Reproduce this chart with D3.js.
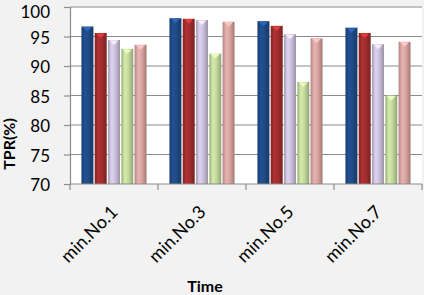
<!DOCTYPE html>
<html><head><meta charset="utf-8">
<script src="https://cdn.jsdelivr.net/npm/d3@7"></script>
<style>html,body{margin:0;padding:0;background:#f2f2f2;}svg{display:block;}</style>
</head><body><svg id="c" width="424" height="295"></svg>
<script>
const categories = ["min.No.1","min.No.3","min.No.5","min.No.7"];
const seriesNames = ["s1","s2","s3","s4","s5"];
const s1 = [96.7, 98.1, 97.6, 96.5];
const s2 = [95.6, 98.0, 96.8, 95.6];
const s3 = [94.4, 97.8, 95.4, 93.7];
const s4 = [92.9, 92.1, 87.3, 85.0];
const s5 = [93.6, 97.5, 94.7, 94.1];
const yTicks = [70,75,80,85,90,95,100];
const colors = ["#1f4a86","#a12d2d","#ccc1dc","#c2d99c","#d8a4a2"];

const seriesVals = [s1,s2,s3,s4,s5];
const svg = d3.select("#c");
const m = {l:70, r:2, t:7, b:111};
const W = 424, H = 295;
const x0 = d3.scaleBand().domain(categories).range([m.l, W-m.r]).paddingInner(0.23).paddingOuter(0.115);
const x1 = d3.scaleBand().domain(seriesNames).range([0, x0.bandwidth()]).padding(0.1);
const y = d3.scaleLinear().domain([70,100]).range([H-m.b, m.t]);
const FONT = "Lato, 'Open Sans', sans-serif";

svg.append("rect").attr("x",m.l).attr("y",m.t).attr("width",W-m.r-m.l).attr("height",H-m.b-m.t).attr("fill","#ffffff");

const defs = svg.append("defs");
colors.forEach((c,i)=>{
  const g = defs.append("linearGradient").attr("id","g"+i).attr("x1","0").attr("x2","1").attr("y1","0").attr("y2","0");
  const cc = d3.color(c);
  g.append("stop").attr("offset","0%").attr("stop-color",cc.darker(0.6));
  g.append("stop").attr("offset","30%").attr("stop-color",cc.brighter(0.25));
  g.append("stop").attr("offset","60%").attr("stop-color",c);
  g.append("stop").attr("offset","100%").attr("stop-color",cc.darker(0.8));
});

// gridlines
svg.append("g").selectAll("line").data(yTicks.slice(1)).join("line")
  .attr("x1",m.l).attr("x2",W-m.r).attr("y1",d=>y(d)).attr("y2",d=>y(d))
  .attr("stroke","#8c8c8c").attr("stroke-width",1.2);

// bars
const groups = svg.append("g").selectAll("g").data(categories).join("g")
  .attr("transform",d=>`translate(${x0(d)},0)`);
groups.each(function(cat,ci){
  const g = d3.select(this);
  seriesNames.forEach((s,si)=>{
    const v = seriesVals[si][ci];
    const bx = x1(s), bw = x1.bandwidth();
    g.append("rect").attr("x",bx).attr("y",y(v)).attr("width",bw).attr("height",y(70)-y(v))
      .attr("fill",`url(#g${si})`);
    const cc = d3.color(colors[si]).brighter(si<2?1.0:0.6);
    g.append("path").attr("d",`M${bx+1.5},${y(v)+0.5} L${bx+bw-1.5},${y(v)+0.5} L${bx+bw/2},${y(v)+5} Z`)
      .attr("fill",cc).attr("opacity",0.9);
  });
});

// axes
const yAxis = svg.append("g").attr("transform",`translate(${m.l},0)`)
  .call(d3.axisLeft(y).tickValues(yTicks).tickSize(6).tickPadding(14));
yAxis.select(".domain").attr("stroke","#8c8c8c").attr("stroke-width",1.2);
yAxis.selectAll(".tick line").attr("stroke","#8c8c8c").attr("stroke-width",1.2);
yAxis.selectAll("text").attr("font-family",FONT).attr("font-size",17).attr("fill","#000")
  .attr("dy",d=>d===100?"0.6em":"0.4em");

const xAxisG = svg.append("g").attr("transform",`translate(0,${y(70)})`);
xAxisG.append("line").attr("x1",m.l).attr("x2",W-m.r).attr("stroke","#8c8c8c").attr("stroke-width",1.2);
const bounds = categories.map(c=>x0(c)-x0.step()*x0.paddingInner()/2).concat([W-m.r]);
xAxisG.selectAll("line.t").data(bounds).join("line").attr("class","t")
  .attr("x1",d=>d).attr("x2",d=>d).attr("y1",0).attr("y2",6).attr("stroke","#8c8c8c").attr("stroke-width",1.2);
xAxisG.selectAll("text").data(categories).join("text")
  .attr("transform",d=>`translate(${x0(d)+x0.bandwidth()/2+5},${29}) rotate(-45)`)
  .attr("text-anchor","end").attr("font-family",FONT).attr("font-size",18)
  .attr("fill","#000").text(d=>d);

svg.append("text").attr("x",205).attr("y",292).attr("text-anchor","middle")
  .attr("font-family",FONT).attr("font-weight","bold").attr("font-size",16).text("Time");
svg.append("text").attr("transform","translate(15,144) rotate(-90)").attr("text-anchor","middle")
  .attr("font-family",FONT).attr("font-weight","bold").attr("font-size",16).text("TPR(%)");
</script></body></html>
